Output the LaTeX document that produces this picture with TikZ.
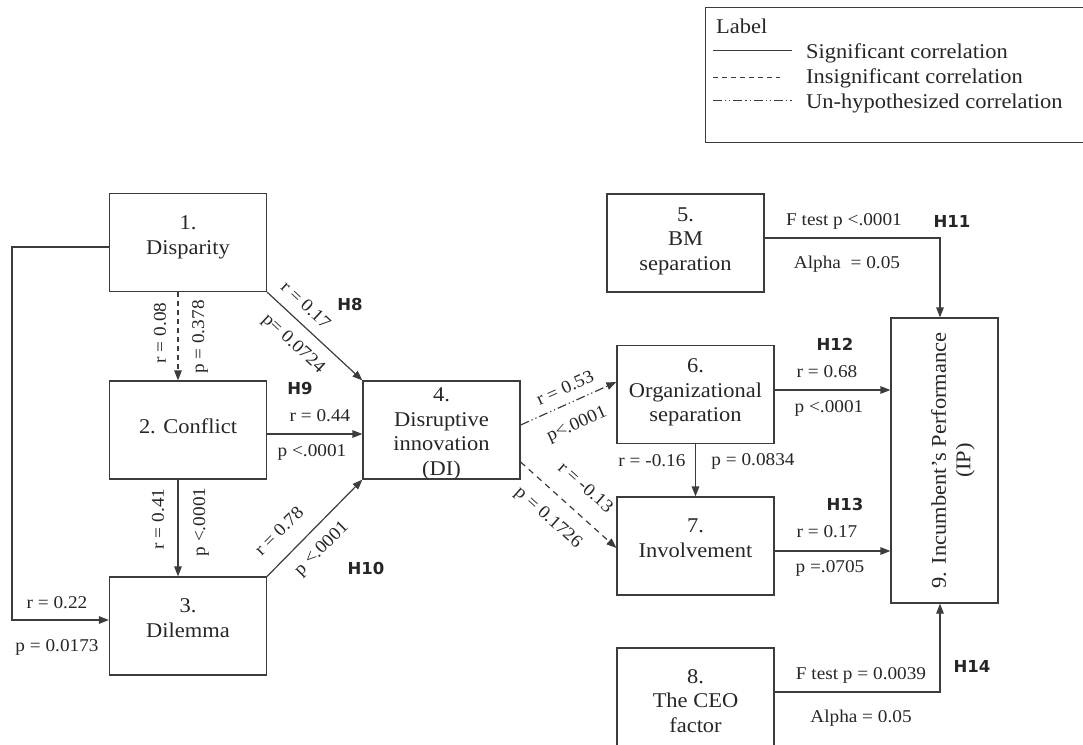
\documentclass[tikz,border=0pt]{standalone}
\usepackage{fontspec}
\setmainfont{Liberation Serif}[FakeStretch=1.07]
\newfontfamily\hfont{DejaVu Sans}
\usetikzlibrary{arrows.meta}

\definecolor{linec}{HTML}{3C3C3C}
\definecolor{txt}{HTML}{262626}

\newcommand\boxfont{\fontsize{21}{24.5}\selectfont}
\newcommand\labfont{\fontsize{18}{21}\selectfont}
\newcommand\hypfont{\hfont\bfseries\fontsize{16.5}{19}\selectfont}

\tikzset{
  box/.style={draw=linec, line width=1.2pt, minimum width=157pt, minimum height=98pt,
    inner sep=0pt},
  boxtext/.style={align=center, font=\boxfont, text=txt, inner sep=0pt},
  lab/.style={font=\labfont, text=txt, inner sep=0pt},
  hyp/.style={font=\hypfont, text=txt, inner sep=0pt},
  conn/.style={draw=linec, line width=1.2pt, -{Triangle[length=10pt,width=7.5pt]}},
  insig/.style={conn, dash pattern=on 5pt off 4pt},
  unhyp/.style={conn, dash pattern=on 9pt off 3pt on 1.2pt off 3pt on 1.2pt off 3pt},
  legline/.style={draw=linec, line width=1pt},
}

\begin{document}
\begin{tikzpicture}[x=1pt, y=-1pt]
\useasboundingbox (0,0) rectangle (1083,744);
\clip (0,0) rectangle (1083,744);

% legend
\draw[legline] (705,7) rectangle (1090,142);
\node[boxtext, anchor=base west] (legtitle) at (716,33) {Label};
\coordinate (ls1) at (713,50);  \coordinate (le1) at (792,50);
\coordinate (ls2) at (713,77);  \coordinate (le2) at (780,77);
\coordinate (ls3) at (713,100); \coordinate (le3) at (792,100);
\draw[legline] (ls1) -- (le1);
\draw[legline, dash pattern=on 5pt off 4pt] (ls2) -- (le2);
\draw[legline, dash pattern=on 9pt off 3pt on 1.2pt off 3pt on 1.2pt off 3pt] (ls3) -- (le3);
\node[boxtext, anchor=base west] (leg1) at (806,58) {Significant correlation};
\node[boxtext, anchor=base west] (leg2) at (806,83) {Insignificant correlation};
\node[boxtext, anchor=base west] (leg3) at (806,108) {Un-hypothesized correlation};

% constructs
\node[box] (n1) at (188,242.5) {};
\node[box] (n2) at (188,430) {};
\node[box] (n3) at (188,626) {};
\node[box] (n4) at (441.5,430) {};
\node[box] (n5) at (685.5,243) {};
\node[box] (n6) at (695.5,394.5) {};
\node[box] (n7) at (695.5,546) {};
\node[box] (n8) at (695.5,697) {};
\node[box, minimum width=107pt, minimum height=285pt] (n9) at (944.5,460.5) {};

\node[boxtext] (t1) at ([yshift=5pt]n1.center) {1.\\Disparity};
\node[boxtext] (t2) at ([yshift=4pt]n2.center) {2. Conflict};
\node[boxtext] (t3) at ([yshift=8pt]n3.center) {3.\\Dilemma};
\node[boxtext] (t4) at ([yshift=-4pt]n4.center) {4.\\Disruptive\\innovation\\(DI)};
\node[boxtext] (t5) at ([yshift=2pt]n5.center) {5.\\BM\\separation};
\node[boxtext] (t6) at ([yshift=2pt]n6.center) {6.\\Organizational\\separation};
\node[boxtext] (t7) at ([yshift=8pt]n7.center) {7.\\Involvement};
\node[boxtext] (t8) at ([yshift=-4pt]n8.center) {8.\\The CEO\\factor};
\node[boxtext, rotate=90] (t9) at ([xshift=8.5pt]n9.center)
  {9. Incumbent’s Performance\\(IP)};

% connectors
\draw[insig] ([xshift=-10pt]n1.south) -- ([xshift=-10pt]n2.north);
\draw[conn] (n1.south east) -- (n4.north west);
\draw[conn] ([yshift=-4pt]n2.east) -- ([yshift=-4pt]n2.east -| n4.west);
\draw[conn] ([xshift=-10pt]n2.south) -- ([xshift=-10pt]n3.north);
\draw[conn] (n3.north east) -- (n4.south west);
\coordinate (c13) at (12,400);
\draw[conn] ([yshift=-4.5pt]n1.west) -| (c13) |- ([yshift=6pt]n3.west);
\draw[unhyp] ([yshift=5pt]n4.east) -- ([yshift=12.5pt]n6.west);
\draw[insig, dash pattern=on 6pt off 5pt] ([yshift=-32pt]n4.east) -- ([yshift=-2pt]n7.west);
\draw[conn] ([yshift=4.5pt]n6.east) -- ([yshift=4.5pt]n6.east -| n9.west);
\draw[conn] (n6.south) -- (n7.north);
\draw[conn] ([yshift=-5pt]n7.east) -- ([yshift=-5pt]n7.east -| n9.west);
\draw[conn] ([yshift=5pt]n5.east) -| ([xshift=-4.5pt]n9.north);
\draw[conn] ([yshift=5pt]n8.east) -| ([xshift=-4.5pt]n9.south);

% statistics
\node[lab, rotate=90] (r12) at (160,333) {r = 0.08};
\node[lab, rotate=90] (p12) at (200,337) {p = 0.378};
\node[lab, rotate=-43] (r14) at (306,305) {r = 0.17};
\node[lab, rotate=-43] (p14) at (293,344) {p= 0.0724};
\node[hyp] (h8) at (350,304) {H8};
\node[hyp] (h9) at (300,388) {H9};
\node[lab] (r24) at (320,416) {r = 0.44};
\node[lab] (p24) at (312,452) {p <.0001};
\node[lab, rotate=90] (r23) at (158,519) {r = 0.41};
\node[lab, rotate=90] (p23) at (201,522) {p <.0001};
\node[lab, rotate=45] (r34) at (279,531) {r = 0.78};
\node[lab, rotate=45] (p34) at (322,549) {p <.0001};
\node[hyp] (h10) at (366,568) {H10};
\node[lab] (r13) at (57,603) {r = 0.22};
\node[lab] (p13) at (57,647) {p = 0.0173};
\node[lab, rotate=24] (r46) at (565,388) {r = 0.53};
\node[lab, rotate=24] (p46) at (577,425) {p<.0001};
\node[lab, rotate=-41.6] (r47) at (586,487) {r = -0.13};
\node[lab, rotate=-41.6] (p47) at (548,518) {p = 0.1726};
\node[hyp] (h11) at (952,221) {H11};
\node[lab] (f59) at (844,221) {F test p <.0001};
\node[lab] (a59) at (847,264) {Alpha\ \ = 0.05};
\node[hyp] (h12) at (835,344) {H12};
\node[lab] (r69) at (827,372) {r = 0.68};
\node[lab] (p69) at (829,408) {p <.0001};
\node[lab] (r67) at (652,461) {r = -0.16};
\node[lab] (p67) at (753,461) {p = 0.0834};
\node[hyp] (h13) at (845,504) {H13};
\node[lab] (r79) at (827,532) {r = 0.17};
\node[lab] (p79) at (830,568) {p =.0705};
\node[hyp] (h14) at (972,666) {H14};
\node[lab] (f89) at (861,675) {F test p = 0.0039};
\node[lab] (a89) at (861,718) {Alpha = 0.05};
\end{tikzpicture}
\end{document}
